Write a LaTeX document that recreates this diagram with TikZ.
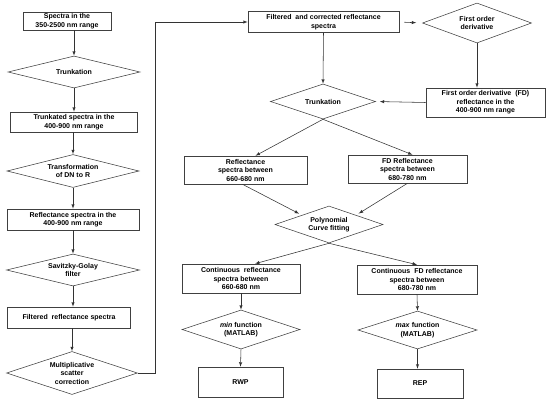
\documentclass[tikz,border=0pt]{standalone}
\usepackage{fontspec}
\setmainfont{Liberation Sans}
\usetikzlibrary{shapes.geometric}

\begin{document}
\begin{tikzpicture}[x=1pt,y=-1pt,>=latex,
  every node/.style={font=\fontsize{7}{8.5}\selectfont\bfseries,align=center,inner sep=0pt},
  flowbox/.style={draw=black!75,line width=0.55pt},
  decision/.style={draw=black!75,line width=0.55pt,diamond,aspect=3},
  link/.style={->,draw=black!80,line width=0.55pt}]

\useasboundingbox (0,0) rectangle (550,407);

% Left column: pre-processing
\node[flowbox,minimum width=88pt,minimum height=18pt] (spec) at (67,21) {Spectra in the\\350-2500 nm range};
\node[decision,minimum width=132pt,minimum height=32pt] (trunc) at (74,72) {Trunkation};
\node[flowbox,minimum width=127pt,minimum height=20pt] (trspec) at (74,122) {Trunkated spectra in the\\400-900 nm range};
\node[decision,minimum width=132pt,minimum height=33pt] (dntor) at (73,171) {Transformation\\of DN to R};
\node[flowbox,minimum width=132pt,minimum height=21pt] (refl) at (73,219.5) {Reflectance spectra in the\\400-900 nm range};
\node[decision,minimum width=133pt,minimum height=32pt] (golay) at (73,270) {Savitzky-Golay\\filter};
\node[flowbox,minimum width=123pt,minimum height=21pt] (filt) at (69,317.5) {Filtered\ \ reflectance spectra};
\node[decision,minimum width=131pt,minimum height=43pt] (msc) at (72,373) {Multiplicative\\scatter\\correction};

% Arrows down the left column
\draw[link] (trunc.north |- spec.south) -- (trunc.north);
\draw[link] (trunc.south) -- (trspec.north);
\draw[link] (dntor.north |- trspec.south) -- (dntor.north);
\draw[link] (dntor.south) -- (refl.north);
\draw[link] (refl.south) -- (golay.north);
\draw[link] (golay.south) -- (golay.south |- filt.north);
\draw[link] (msc.north |- filt.south) -- (msc.north);

% Right part: derivative and wavelength ranges
\node[flowbox,minimum width=151pt,minimum height=21pt] (corr) at (323.5,22) {Filtered\ \ and corrected reflectance\\spectra};
\node[decision,minimum width=109pt,minimum height=40pt] (deriv) at (477,23) {First order\\derivative};
\node[flowbox,minimum width=119pt,minimum height=29pt] (fdrefl) at (485.5,102.5) {First order derivative\ \ (FD)\\reflectance in the\\400-900 nm range};
\node[decision,minimum width=105pt,minimum height=35pt] (trunctwo) at (323,101.5) {Trunkation};
\node[flowbox,minimum width=123pt,minimum height=28pt] (rsp) at (245.5,170) {Reflectance\\spectra between\\660-680 nm};
\node[flowbox,minimum width=119pt,minimum height=28pt] (fdsp) at (407.5,169) {FD\ Reflectance\\spectra between\\680-780 nm};
\node[decision,minimum width=108pt,minimum height=37pt] (poly) at (329,224.5) {Polynomial\\Curve fitting};
\node[flowbox,minimum width=118pt,minimum height=29pt] (contr) at (241,278.5) {Continuous\ \ reflectance\\spectra between\\660-680 nm};
\node[flowbox,minimum width=120pt,minimum height=29pt] (contfd) at (417,279.5) {Continuous\ \ FD\ reflectance\\spectra between\\680-780 nm};
\node[decision,minimum width=118pt,minimum height=39pt] (minf) at (241,329.5) {\textit{min} function\\(MATLAB)};
\node[decision,minimum width=119pt,minimum height=38pt] (maxf) at (417.5,330) {\textit{max} function\\(MATLAB)};
\node[flowbox,minimum width=85pt,minimum height=30pt] (rwp) at (240.5,382) {RWP};
\node[flowbox,minimum width=86pt,minimum height=29pt] (rep) at (420,383.5) {REP};

% Connector from the left column over to the right part
\coordinate (bend) at (155,22);
\draw[link] (msc.east) -| (bend) -- (corr.west);

% Arrows of the right part
\draw[link,shorten <=5pt,shorten >=6pt] (corr.east) -- (deriv.west);
\draw[link] (corr.south) -- (trunctwo.north);
\draw[link] (deriv.south) -- (deriv.south |- fdrefl.north);
\draw[link,shorten >=4pt] (fdrefl.west) -- (trunctwo.east);
\draw[link] (trunctwo.south) -- ([xshift=10pt]rsp.north);
\draw[link] (trunctwo.south) -- ([xshift=5pt]fdsp.north);
\draw[link,shorten >=3pt] ([xshift=-3pt]rsp.south) -- (poly.north west);
\draw[link,shorten >=3pt] (fdsp.south) -- (poly.north east);
\draw[link] (poly.south) -- ([xshift=14pt]contr.north);
\draw[link] (poly.south) -- (contfd.north);
\draw[link] (contr.south) -- (minf.north);
\draw[link] (minf.south) -- (rwp.north);
\draw[link] (contfd.south) -- (maxf.north);
\draw[link] (maxf.south) -- (maxf.south |- rep.north);

\end{tikzpicture}
\end{document}
